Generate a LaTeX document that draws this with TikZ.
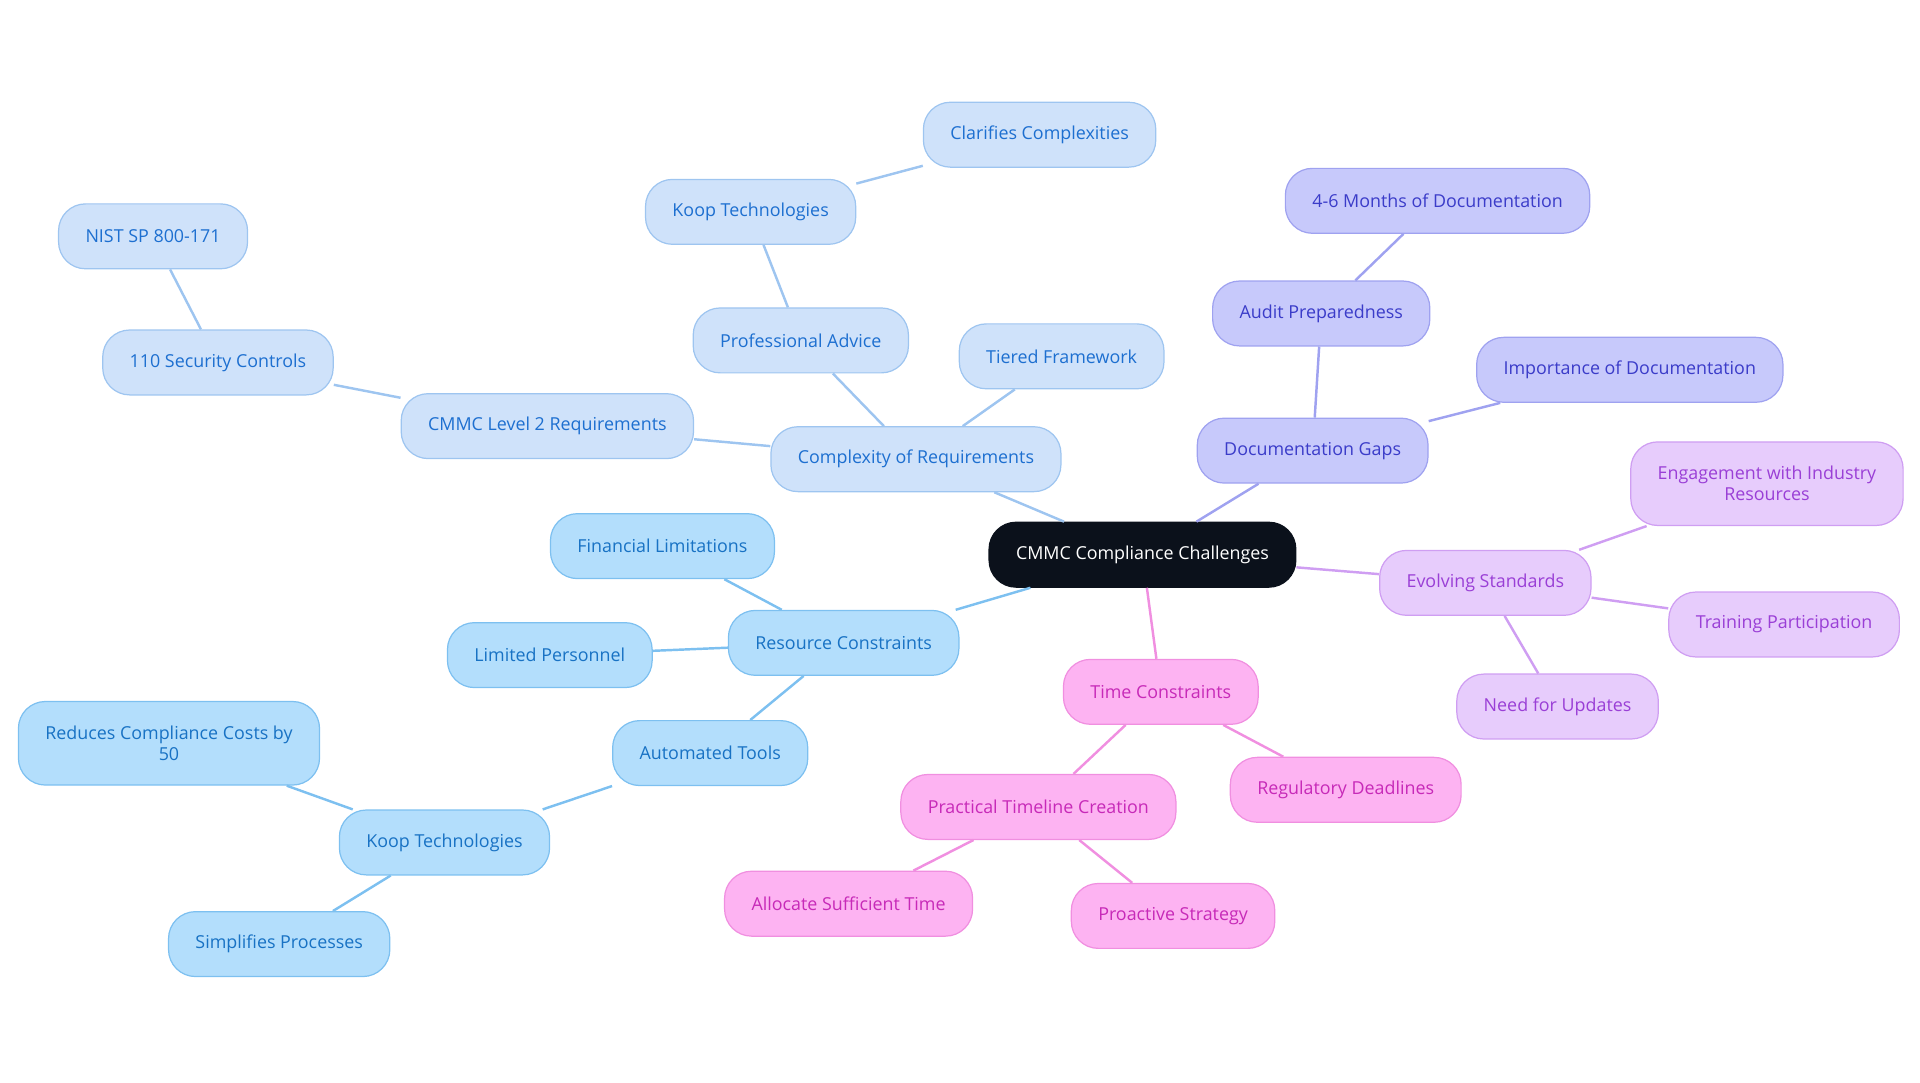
\documentclass[tikz,border=0pt]{standalone}
\usepackage{fontspec}
\setmainfont{Open Sans}
\usepackage{xcolor}
\usepackage{tikz}
\usetikzlibrary{positioning}

\definecolor{rootfill}{HTML}{0B111B}
\definecolor{reqfill}{HTML}{CFE2FA}
\definecolor{reqdraw}{HTML}{9EC5F0}
\definecolor{reqtext}{HTML}{1D6FD0}
\definecolor{resfill}{HTML}{B3DEFC}
\definecolor{resdraw}{HTML}{7DC0F0}
\definecolor{restext}{HTML}{1872C4}
\definecolor{docfill}{HTML}{C7C9FB}
\definecolor{docdraw}{HTML}{9FA2F0}
\definecolor{doctext}{HTML}{3B3CC9}
\definecolor{evofill}{HTML}{E7CCFC}
\definecolor{evodraw}{HTML}{CF9EF2}
\definecolor{evotext}{HTML}{9A3FD6}
\definecolor{timefill}{HTML}{FDB3F2}
\definecolor{timedraw}{HTML}{F08FE0}
\definecolor{timetext}{HTML}{C72AB8}

\begin{document}
\begin{tikzpicture}[
  x=1pt,y=-1pt,
  font=\fontsize{14.6}{17}\selectfont,
  every node/.style={align=center,rounded corners=22pt,inner xsep=22pt,inner ysep=4pt,minimum height=53pt,line width=1pt},
  root/.style={fill=rootfill,draw=rootfill,text=white},
  reqbox/.style={draw=reqdraw,fill=reqfill,text=reqtext},
  resbox/.style={draw=resdraw,fill=resfill,text=restext},
  docbox/.style={draw=docdraw,fill=docfill,text=doctext},
  evobox/.style={draw=evodraw,fill=evofill,text=evotext},
  timebox/.style={draw=timedraw,fill=timefill,text=timetext},
  twoline/.style={inner ysep=20pt},
  reqln/.style={draw=reqdraw,line width=2pt},
  resln/.style={draw=resdraw,line width=2pt},
  docln/.style={draw=docdraw,line width=2pt},
  evoln/.style={draw=evodraw,line width=2pt},
  timeln/.style={draw=timedraw,line width=2pt}
]
\useasboundingbox (0,0) rectangle (1568,884);

\node[root] (cmmc) at (933,453) {CMMC Compliance Challenges};

\node[reqbox] (cplx)  at (748,375) {Complexity of Requirements};
\node[reqbox] (tier)  at (867,291) {Tiered Framework};
\node[reqbox] (adv)   at (654,278) {Professional Advice};
\node[reqbox] (koopa) at (613,173) {Koop Technologies};
\node[reqbox] (clar)  at (849,110) {Clarifies Complexities};
\node[reqbox] (lvl)   at (447,348) {CMMC Level 2 Requirements};
\node[reqbox] (ctrl)  at (178,296) {110 Security Controls};
\node[reqbox] (nist)  at (125,193) {NIST SP 800-171};

\node[resbox] (rsrc)  at (689,525) {Resource Constraints};
\node[resbox] (fin)   at (541,446) {Financial Limitations};
\node[resbox] (pers)  at (449,535) {Limited Personnel};
\node[resbox] (auto)  at (580,615) {Automated Tools};
\node[resbox] (koopb) at (363,688) {Koop Technologies};
\node[resbox,twoline] (cost) at (138,607) {Reduces Compliance Costs by\\50};
\node[resbox] (simp)  at (228,771) {Simplifies Processes};

\node[docbox] (gaps)  at (1072,368) {Documentation Gaps};
\node[docbox] (audit) at (1079,256) {Audit Preparedness};
\node[docbox] (mon)   at (1174,164) {4-6 Months of Documentation};
\node[docbox] (imp)   at (1331,302) {Importance of Documentation};

\node[evobox] (evo)   at (1213,476) {Evolving Standards};
\node[evobox,twoline] (eng) at (1443,395) {Engagement with Industry\\Resources};
\node[evobox] (train) at (1457,510) {Training Participation};
\node[evobox] (upd)   at (1272,577) {Need for Updates};

\node[timebox] (time)  at (948,565) {Time Constraints};
\node[timebox] (plan)  at (848,659) {Practical Timeline Creation};
\node[timebox] (dead)  at (1099,645) {Regulatory Deadlines};
\node[timebox] (alloc) at (693,738) {Allocate Sufficient Time};
\node[timebox] (pro)   at (958,748) {Proactive Strategy};

\draw[reqln] (cmmc) -- (cplx);
\draw[reqln] (cplx) -- (tier);
\draw[reqln] (cplx) -- (adv);
\draw[reqln] (adv) -- (koopa);
\draw[reqln] (koopa) -- (clar);
\draw[reqln] (cplx) -- (lvl);
\draw[reqln] (lvl) -- (ctrl);
\draw[reqln] (ctrl) -- (nist);

\draw[resln] (cmmc) -- (rsrc);
\draw[resln] (rsrc) -- (fin);
\draw[resln] (rsrc) -- (pers);
\draw[resln] (rsrc) -- (auto);
\draw[resln] (auto) -- (koopb);
\draw[resln] (koopb) -- (cost);
\draw[resln] (koopb) -- (simp);

\draw[docln] (cmmc) -- (gaps);
\draw[docln] (gaps) -- (audit);
\draw[docln] (audit) -- (mon);
\draw[docln] (gaps) -- (imp);

\draw[evoln] (cmmc) -- (evo);
\draw[evoln] (evo) -- (eng);
\draw[evoln] (evo) -- (train);
\draw[evoln] (evo) -- (upd);

\draw[timeln] (cmmc) -- (time);
\draw[timeln] (time) -- (plan);
\draw[timeln] (time) -- (dead);
\draw[timeln] (plan) -- (alloc);
\draw[timeln] (plan) -- (pro);
\end{tikzpicture}
\end{document}
